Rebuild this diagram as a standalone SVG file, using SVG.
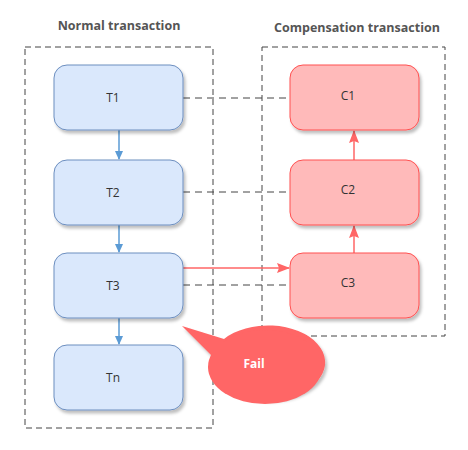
<svg xmlns="http://www.w3.org/2000/svg" width="468" height="450" viewBox="0 0 468 450">
<defs>
<style>
.t{fill:#dae8fc;stroke:#6c8ebf;stroke-width:1}
.c{fill:#ffbaba;stroke:#ff5050;stroke-width:1}
.lbl{font-family:"Segoe UI","Open Sans","Liberation Sans",sans-serif;font-size:12px;fill:#333;text-anchor:middle;dominant-baseline:central}
.title{font-family:"Segoe UI","Open Sans","Liberation Sans",sans-serif;font-size:12.5px;font-weight:bold;fill:#555;text-anchor:middle}
.box{fill:none;stroke:#444;stroke-width:1;stroke-dasharray:6 4}
.dash{fill:none;stroke:#444;stroke-width:1;stroke-dasharray:7 5}
</style>
<filter id="sh" x="-10%" y="-10%" width="130%" height="130%">
<feDropShadow dx="2" dy="3" stdDeviation="1.5" flood-color="#000" flood-opacity="0.25"/>
</filter>
<marker id="ab" markerWidth="10" markerHeight="10" refX="8" refY="5" orient="auto" markerUnits="userSpaceOnUse">
<path d="M0,1 L9,5 L0,9 Z" fill="#5b9bd5"/>
</marker>
<marker id="ar" markerWidth="14" markerHeight="12" refX="12" refY="6" orient="auto" markerUnits="userSpaceOnUse">
<path d="M0,1 L13,6 L0,11 L2,6 Z" fill="#ff6666"/>
</marker>
</defs>
<rect width="468" height="450" fill="#fff"/>
<text class="title" x="119" y="30">Normal transaction</text>
<text class="title" x="357" y="32">Compensation transaction</text>
<rect class="box" x="25" y="47" width="188" height="381"/>
<rect class="box" x="262" y="47" width="183" height="289"/>
<g id="connectors">
<line class="dash" x1="183" y1="98" x2="290" y2="98"/>
<line class="dash" x1="183" y1="192" x2="290" y2="192"/>
<line class="dash" x1="183" y1="285" x2="290" y2="285"/>
<line x1="119" y1="130" x2="119" y2="159" stroke="#5b9bd5" stroke-width="1.5" marker-end="url(#ab)"/>
<line x1="119" y1="225" x2="119" y2="252" stroke="#5b9bd5" stroke-width="1.5" marker-end="url(#ab)"/>
<line x1="119" y1="318" x2="119" y2="344" stroke="#5b9bd5" stroke-width="1.5" marker-end="url(#ab)"/>
<line x1="183" y1="268" x2="289" y2="268" stroke="#ff6666" stroke-width="1.5" marker-end="url(#ar)"/>
<line x1="354" y1="253" x2="354" y2="226" stroke="#ff6666" stroke-width="1.5" marker-end="url(#ar)"/>
<line x1="354" y1="160" x2="354" y2="131" stroke="#ff6666" stroke-width="1.5" marker-end="url(#ar)"/>
</g>
<g id="T1"><rect class="t" filter="url(#sh)" x="54" y="65" width="129" height="65" rx="13"/><text class="lbl" x="113" y="97">T1</text></g>
<g id="T2"><rect class="t" filter="url(#sh)" x="54" y="160" width="129" height="65" rx="13"/><text class="lbl" x="113" y="192">T2</text></g>
<g id="T3"><rect class="t" filter="url(#sh)" x="54" y="253" width="129" height="65" rx="13"/><text class="lbl" x="113" y="285">T3</text></g>
<g id="Tn"><rect class="t" filter="url(#sh)" x="54" y="345" width="129" height="65" rx="13"/><text class="lbl" x="113" y="377">Tn</text></g>
<g id="C1"><rect class="c" filter="url(#sh)" x="290" y="65" width="129" height="65" rx="13"/><text class="lbl" x="348" y="95">C1</text></g>
<g id="C2"><rect class="c" filter="url(#sh)" x="290" y="160" width="129" height="65" rx="13"/><text class="lbl" x="348" y="189">C2</text></g>
<g id="C3"><rect class="c" filter="url(#sh)" x="290" y="253" width="129" height="65" rx="13"/><text class="lbl" x="348" y="282">C3</text></g>
<g id="Fail">
<path filter="url(#sh)" fill="#ff6666" d="M182,326 L224,339 A57,37 0 1 1 212,356 Z"/>
<ellipse cx="265" cy="367" rx="57" ry="37" fill="#ff6666"/>
<text class="lbl" x="254" y="363" style="fill:#fff;font-weight:bold">Fail</text>
</g>
</svg>
